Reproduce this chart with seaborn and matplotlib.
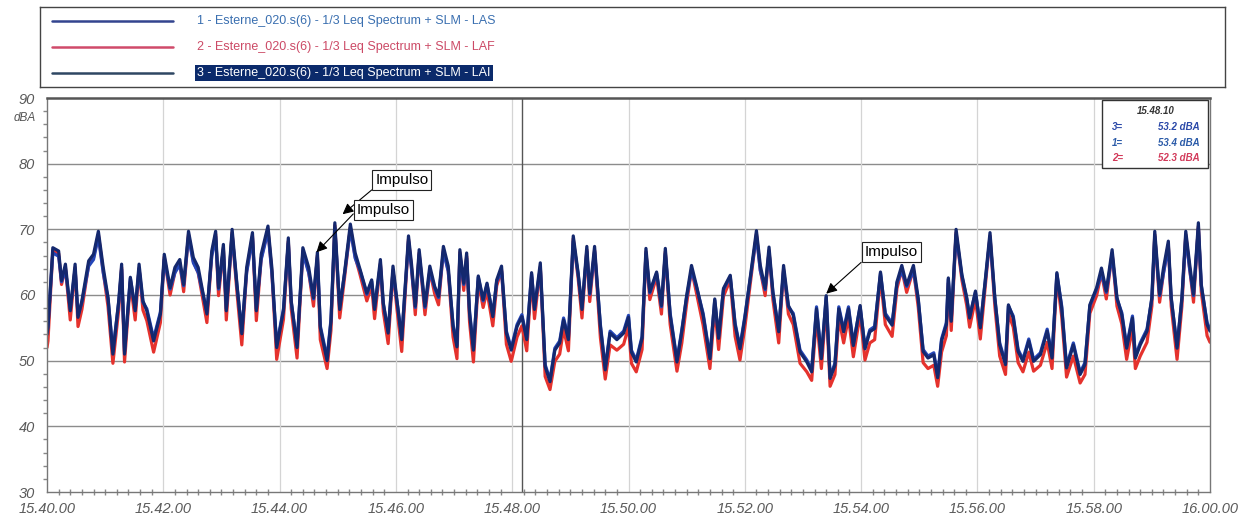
import pandas as pd
import matplotlib.pyplot as plt
import seaborn as sns
from matplotlib.lines import Line2D
from matplotlib.patches import Rectangle
from matplotlib.ticker import MultipleLocator
import matplotlib.transforms as mtransforms

sns.set_theme(style="white")
plt.rcParams['font.family'] = ['Liberation Sans', 'DejaVu Sans']

# tempo em segundos a partir de 15.40.00
tempo = [
    0, 1, 6, 12, 15, 19, 24, 29, 32, 36,
    43, 48, 53, 58, 63, 68, 74, 77, 80, 86,
    91, 95, 99, 103, 110, 117, 121, 127, 132, 137,
    141, 146, 151, 156, 165, 170, 174, 177, 182, 185,
    191, 196, 201, 206, 212, 216, 221, 228, 232, 237,
    244, 249, 252, 258, 264, 270, 275, 279, 282, 289,
    293, 297, 302, 307, 313, 318, 323, 330, 335, 338,
    344, 347, 352, 357, 361, 366, 373, 376, 380, 384,
    390, 395, 400, 404, 409, 414, 419, 423, 426, 430,
    433, 436, 440, 445, 450, 454, 460, 464, 469, 474,
    479, 485, 490, 495, 500, 503, 509, 514, 519, 524,
    529, 533, 538, 543, 548, 552, 557, 560, 565, 571,
    576, 581, 588, 595, 600, 603, 608, 614, 618, 622,
    629, 634, 638, 643, 650, 655, 660, 665, 670, 677,
    684, 689, 693, 698, 705, 710, 715, 720, 725, 732,
    736, 741, 745, 749, 755, 760, 765, 770, 777, 784,
    789, 794, 799, 804, 808, 813, 817, 822, 827, 832,
    839, 844, 849, 854, 860, 865, 872, 877, 882, 887,
    894, 899, 904, 909, 915, 919, 923, 928, 930, 933,
    938, 944, 949, 952, 958, 963, 968, 973, 978, 983,
    989, 992, 997, 1002, 1007, 1013, 1018, 1025, 1032, 1037,
    1042, 1047, 1052, 1059, 1066, 1071, 1076, 1083, 1088, 1093,
    1099, 1104, 1109, 1114, 1120, 1123, 1128, 1135, 1140, 1143,
    1148, 1152, 1157, 1160, 1166, 1171, 1175, 1179, 1183, 1188,
    1191, 1197, 1200,
]

las = [
    54.4, 55.3, 66.4, 65.9, 62.0, 63.9, 57.9, 63.9, 56.9, 58.9,
    64.4, 65.4, 68.9, 63.4, 59.4, 51.4, 58.9, 63.9, 51.4, 62.5,
    57.9, 63.9, 58.9, 57.9, 53.4, 57.4, 65.4, 60.9, 63.4, 64.6,
    61.4, 68.9, 64.9, 63.4, 57.4, 65.9, 68.9, 60.9, 66.9, 57.9,
    69.2, 61.4, 54.4, 63.4, 68.7, 57.9, 65.4, 69.7, 63.4, 52.4,
    57.9, 67.9, 58.9, 52.4, 66.4, 63.4, 59.4, 65.7, 55.3, 50.4,
    56.3, 70.2, 58.1, 63.2, 70.0, 65.6, 63.7, 60.1, 62.1, 58.1,
    64.6, 58.6, 54.5, 63.6, 59.1, 53.5, 68.2, 64.1, 58.1, 66.1,
    58.1, 63.6, 61.1, 59.6, 66.6, 63.6, 55.5, 52.4, 66.1, 61.6,
    65.6, 57.5, 51.9, 62.7, 59.1, 61.6, 57.0, 62.1, 63.6, 54.5,
    51.9, 55.5, 57.0, 53.5, 63.2, 58.1, 64.1, 49.4, 47.1, 51.9,
    53.0, 56.5, 53.5, 68.2, 63.2, 58.1, 66.6, 60.1, 66.6, 55.5,
    48.9, 54.5, 53.5, 54.5, 56.9, 51.6, 50.1, 53.7, 66.3, 60.3,
    63.3, 58.2, 66.3, 57.2, 50.1, 54.7, 59.7, 63.7, 61.3, 57.2,
    50.6, 59.2, 53.7, 60.8, 62.8, 55.7, 52.1, 56.7, 61.8, 69.0,
    63.7, 60.8, 66.5, 60.3, 54.7, 63.7, 58.2, 57.2, 51.6, 50.1,
    48.6, 58.2, 50.6, 59.7, 47.6, 49.6, 58.2, 54.7, 58.2, 52.6,
    58.2, 52.1, 54.7, 55.2, 63.3, 57.2, 55.7, 61.8, 63.7, 61.3,
    63.7, 59.2, 51.7, 50.7, 51.2, 47.7, 53.3, 55.8, 62.4, 56.3,
    69.2, 62.9, 59.4, 56.8, 60.4, 55.3, 61.9, 68.7, 59.4, 52.7,
    49.7, 58.3, 56.8, 51.7, 50.2, 53.3, 50.2, 51.2, 54.8, 50.7,
    63.2, 58.3, 49.2, 52.7, 48.2, 49.7, 58.3, 60.9, 63.3, 60.4,
    66.1, 59.4, 57.3, 52.2, 56.8, 50.7, 52.7, 54.8, 59.4, 68.9,
    59.9, 63.3, 67.4, 59.4, 52.2, 59.4, 68.9, 63.9, 59.9, 70.2,
    61.4, 55.8, 54.8,
]

laf = [
    52.0, 53.0, 66.8, 66.3, 61.6, 64.2, 56.2, 64.2, 55.2, 57.8,
    64.7, 65.7, 69.2, 63.6, 58.2, 49.6, 57.8, 64.2, 49.8, 62.0,
    56.2, 64.1, 57.7, 56.1, 51.3, 55.8, 65.8, 60.0, 63.5, 64.9,
    60.5, 69.2, 65.1, 63.4, 55.8, 66.2, 69.3, 59.9, 67.2, 56.2,
    69.5, 60.4, 52.4, 63.6, 69.0, 56.1, 65.6, 70.0, 63.5, 50.2,
    56.3, 68.2, 57.9, 50.4, 66.7, 63.5, 58.3, 66.0, 53.2, 48.8,
    54.6, 70.6, 56.5, 62.6, 70.3, 65.8, 63.1, 59.1, 61.4, 56.4,
    64.8, 57.5, 52.6, 63.8, 58.0, 51.4, 68.5, 64.3, 57.0, 66.4,
    57.0, 63.7, 60.2, 58.5, 66.9, 63.7, 53.6, 50.3, 66.5, 60.7,
    65.9, 55.9, 49.8, 62.1, 58.1, 60.6, 55.3, 61.4, 63.8, 52.5,
    49.9, 53.6, 55.3, 51.5, 62.7, 56.4, 64.3, 47.6, 45.6, 49.9,
    51.0, 54.8, 51.5, 68.6, 62.6, 56.5, 66.9, 59.0, 66.8, 53.5,
    47.2, 52.4, 51.6, 52.5, 55.2, 49.6, 48.3, 51.7, 66.6, 59.3,
    62.8, 57.1, 66.6, 55.5, 48.4, 52.7, 58.7, 63.9, 60.4, 55.4,
    48.8, 58.1, 51.7, 59.8, 62.3, 53.7, 50.1, 55.0, 61.0, 69.3,
    63.8, 59.9, 66.8, 59.3, 52.7, 63.9, 57.1, 55.5, 49.6, 48.3,
    47.0, 56.6, 48.8, 58.6, 46.1, 47.9, 56.5, 52.7, 56.6, 50.6,
    57.1, 50.1, 52.7, 53.2, 62.8, 55.5, 53.7, 61.0, 63.9, 60.4,
    63.9, 58.1, 49.7, 48.8, 49.3, 46.1, 51.3, 53.8, 61.8, 54.6,
    69.5, 62.3, 58.4, 55.1, 59.4, 53.3, 61.2, 69.0, 58.3, 50.7,
    47.9, 57.2, 55.1, 49.7, 48.3, 51.3, 48.4, 49.3, 52.8, 48.8,
    62.7, 56.7, 47.5, 50.7, 46.6, 47.9, 57.2, 59.9, 63.4, 59.4,
    66.4, 58.3, 55.6, 50.2, 55.1, 48.8, 50.7, 52.8, 58.3, 69.2,
    58.9, 63.4, 67.7, 58.3, 50.2, 58.3, 69.2, 64.1, 58.9, 70.5,
    60.5, 53.8, 52.8,
]

lai = [
    54.0, 55.0, 67.2, 66.7, 62.2, 64.7, 57.6, 64.7, 56.6, 59.1,
    65.2, 66.2, 69.7, 64.2, 59.6, 51.0, 59.1, 64.7, 51.0, 62.7,
    57.6, 64.7, 59.1, 57.6, 53.0, 57.1, 66.2, 61.1, 64.2, 65.4,
    61.6, 69.7, 65.7, 64.2, 57.1, 66.7, 69.7, 61.1, 67.7, 57.6,
    70.0, 61.6, 54.1, 64.2, 69.5, 57.6, 66.2, 70.5, 64.2, 52.0,
    57.6, 68.7, 59.1, 52.0, 67.2, 64.2, 59.6, 66.5, 55.0, 50.0,
    56.0, 71.0, 57.8, 63.4, 70.8, 66.4, 63.9, 60.3, 62.3, 57.8,
    65.4, 58.8, 54.2, 64.4, 59.3, 53.2, 69.0, 64.9, 58.3, 66.9,
    58.3, 64.4, 61.3, 59.8, 67.4, 64.4, 55.2, 52.1, 66.9, 61.8,
    66.4, 57.2, 51.6, 62.9, 59.3, 61.8, 56.7, 62.3, 64.4, 54.2,
    51.6, 55.2, 56.7, 53.2, 63.4, 57.8, 64.9, 49.1, 46.8, 51.6,
    52.7, 56.2, 53.2, 69.0, 63.4, 57.8, 67.4, 60.3, 67.4, 55.2,
    48.6, 54.2, 53.2, 54.2, 56.6, 51.3, 49.8, 53.4, 67.1, 60.5,
    63.5, 58.4, 67.1, 56.9, 49.8, 54.4, 59.9, 64.5, 61.5, 56.9,
    50.3, 59.4, 53.4, 61.0, 63.0, 55.4, 51.8, 56.4, 62.0, 69.8,
    64.5, 61.0, 67.3, 60.5, 54.4, 64.5, 58.4, 56.9, 51.3, 49.8,
    48.3, 57.9, 50.3, 59.9, 47.3, 49.3, 57.9, 54.4, 57.9, 52.3,
    58.4, 51.8, 54.4, 54.9, 63.5, 56.9, 55.4, 62.0, 64.5, 61.5,
    64.5, 59.4, 51.4, 50.4, 50.9, 47.4, 53.0, 55.5, 62.6, 56.0,
    70.0, 63.1, 59.6, 56.5, 60.6, 55.0, 62.1, 69.5, 59.6, 52.4,
    49.4, 58.5, 56.5, 51.4, 49.9, 53.0, 49.9, 50.9, 54.5, 50.4,
    63.4, 58.0, 48.9, 52.4, 47.9, 49.4, 58.5, 61.1, 64.1, 60.6,
    66.9, 59.6, 57.0, 51.9, 56.5, 50.4, 52.4, 54.5, 59.6, 69.7,
    60.1, 64.1, 68.2, 59.6, 51.9, 59.6, 69.7, 64.7, 60.1, 71.0,
    61.6, 55.5, 54.5,
]

nomes = [
    '1 - Esterne_020.s(6) - 1/3 Leq Spectrum + SLM - LAS',
    '2 - Esterne_020.s(6) - 1/3 Leq Spectrum + SLM - LAF',
    '3 - Esterne_020.s(6) - 1/3 Leq Spectrum + SLM - LAI',
]
cores = ['#2446b8', '#e5322d', '#14286e']

xticks_s = [0, 120, 240, 360, 480, 600, 720, 840, 960, 1080, 1200]
xtick_labels = ['15.40.00', '15.42.00', '15.44.00', '15.46.00', '15.48.00', '15.50.00',
                '15.52.00', '15.54.00', '15.56.00', '15.58.00', '16.00.00']
cursor_s = 490  # 15.48.10
cursor_txt = '15.48.10'
cursor_vals = [('3=', '53.2 dBA', '#2a48a8'), ('1=', '53.4 dBA', '#2a5aa8'), ('2=', '52.3 dBA', '#d23a5a')]

impulsos = [  # (x texto, y texto, x alvo, y alvo, relpos)
    (366, 77.5, 305, 72.3, (0, 0)),
    (347, 72.9, 278, 66.5, (0, 0.5)),
    (871, 66.5, 804, 60.2, (0, 0)),
]

df = pd.DataFrame({
    't': tempo * 3,
    'dB': las + laf + lai,
    'serie': ['LAS'] * len(tempo) + ['LAF'] * len(tempo) + ['LAI'] * len(tempo),
})

fig = plt.figure(figsize=(12.47, 5.24), dpi=100)
ax = fig.add_axes([47 / 1247, 32 / 524, 1163 / 1247, 394 / 524])

# ordem de desenho: LAF, LAS, LAI (por cima)
for serie, cor in [('LAF', cores[1]), ('LAS', cores[0]), ('LAI', cores[2])]:
    sns.lineplot(data=df[df['serie'] == serie], x='t', y='dB', color=cor,
                 lw=2.3, estimator=None, ax=ax, legend=False)

ax.set_xlim(0, 1200)
ax.set_ylim(30, 90)
ax.set_xlabel('')
ax.set_ylabel('')
ax.set_xticks(xticks_s)
ax.set_xticklabels(xtick_labels)
ax.xaxis.set_minor_locator(MultipleLocator(12))
ax.yaxis.set_major_locator(MultipleLocator(10))
ax.yaxis.set_minor_locator(MultipleLocator(2))
ax.tick_params(axis='both', which='major', labelsize=10.5, labelcolor='#5a5a5a', color='#777777', length=5)
ax.tick_params(axis='y', which='minor', length=3, color='#888888', left=True)
ax.tick_params(axis='x', which='minor', length=4, color='#888888', bottom=True, direction='inout')
ax.tick_params(axis='x', which='major', direction='inout', length=6, pad=4)
for lab in ax.get_xticklabels() + ax.get_yticklabels():
    lab.set_fontstyle('italic')

ax.grid(False)
for v in [40, 50, 60, 70, 80]:
    ax.axhline(v, color='#8c8c8c', lw=1.0, zorder=0)
for v in xticks_s[1:-1]:
    ax.axvline(v, color='#d4d4d4', lw=0.9, zorder=0)
ax.axvline(cursor_s, color='#555555', lw=1.0, zorder=1)

for side in ['left', 'right', 'bottom']:
    ax.spines[side].set_color('#777777')
    ax.spines[side].set_linewidth(1.0)
ax.spines['top'].set_color('#555555')
ax.spines['top'].set_linewidth(1.8)

trans = mtransforms.blended_transform_factory(ax.transAxes, ax.transData)
ax.text(-0.010, 87.0, 'dBA', transform=trans, ha='right', va='center',
        fontsize=8.5, style='italic', color='#555555')

# caixa do cursor
ax.add_patch(Rectangle((0.907, 0.822), 0.091, 0.173, transform=ax.transAxes,
                       fc='white', ec='#333333', lw=1.0, zorder=5))
ax.text(0.953, 0.968, cursor_txt, transform=ax.transAxes, ha='center', va='center',
        fontsize=7, style='italic', weight='bold', color='#333333', zorder=6)
for i, (k, v, c) in enumerate(cursor_vals):
    yy = 0.926 - i * 0.039
    ax.text(0.916, yy, k, transform=ax.transAxes, ha='left', va='center',
            fontsize=7, style='italic', weight='bold', color=c, zorder=6)
    ax.text(0.991, yy, v, transform=ax.transAxes, ha='right', va='center',
            fontsize=7, style='italic', weight='bold', color=c, zorder=6)

for tx, ty, px, py, rp in impulsos:
    ax.annotate('Impulso', xy=(px, py), xytext=(tx, ty), ha='center', va='center',
                fontsize=11, color='black', zorder=7,
                bbox=dict(boxstyle='square,pad=0.2', fc='white', ec='#222222', lw=0.8),
                arrowprops=dict(arrowstyle='-|>', color='black', lw=0.8,
                                mutation_scale=16, relpos=rp, shrinkA=0, shrinkB=0))

# legenda superior
lax = fig.add_axes([40 / 1247, (524 - 87) / 524, 1185 / 1247, 80 / 524])
lax.set_xlim(0, 1185)
lax.set_ylim(80, 0)
lax.set_xticks([])
lax.set_yticks([])
for s in lax.spines.values():
    s.set_color('#444444')
    s.set_linewidth(1.0)
cores_leg = ['#33448f', '#d04a6a', '#2e4763']
cores_txt = ['#3a6fb0', '#cc4a66', 'white']
for i, nome in enumerate(nomes):
    yy = 14 + i * 26
    lax.add_line(Line2D([12, 133], [yy, yy], color=cores_leg[i], lw=1.8))
    t = lax.text(157, yy, nome, ha='left', va='center', fontsize=9, color=cores_txt[i])
    if i == 2:
        t.set_bbox(dict(fc='#0b2a6b', ec='none', pad=1.5))

fig.savefig('out.png', dpi=100)
